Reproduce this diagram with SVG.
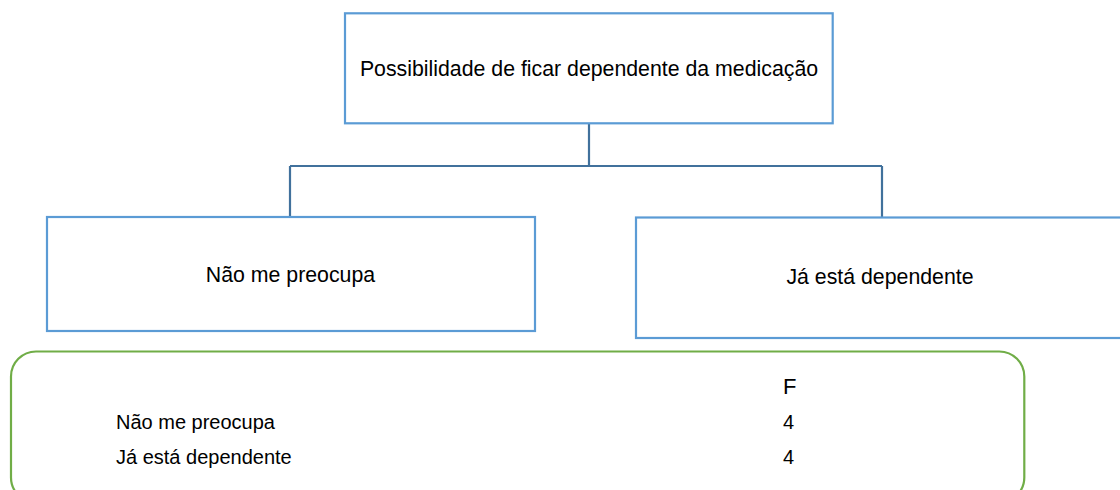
<svg xmlns="http://www.w3.org/2000/svg" width="1120" height="490" viewBox="0 0 1120 490">
<style>
.box{fill:#ffffff;stroke:#5B9BD5;stroke-width:2.2}
.conn{fill:none;stroke:#41719C;stroke-width:2.2}
.t{font-family:"Liberation Sans",Arial,sans-serif;font-size:21.3px;fill:#000000}
.tb{font-family:"Liberation Sans",Arial,sans-serif;font-size:20px;fill:#000000}
.legend{fill:#ffffff;stroke:#70AD47;stroke-width:2.2}
</style>
<rect width="1120" height="490" fill="#ffffff"/>
<g id="connectors">
<path class="conn" d="M589,123 V166 M290,166 H882 M290,166 V217 M882,166 V217"/>
</g>
<g id="node-root">
<rect class="box" x="345" y="13.3" width="487.7" height="110"/>
<text class="t" x="589" y="76" text-anchor="middle">Possibilidade de ficar dependente da medicação</text>
</g>
<g id="node-nao">
<rect class="box" x="47" y="217" width="488" height="114"/>
<text class="t" x="290.5" y="282" text-anchor="middle">Não me preocupa</text>
</g>
<g id="node-ja">
<rect class="box" x="636" y="217.5" width="490" height="120.5"/>
<text class="t" x="880" y="283.5" text-anchor="middle">Já está dependente</text>
</g>
<g id="legend">
<rect class="legend" x="11" y="351.5" width="1013.3" height="151" rx="25" ry="25"/>
<text class="tb" x="783" y="393.5" style="font-size:22px">F</text>
<text class="tb" x="116" y="428.5">Não me preocupa</text>
<text class="tb" x="783" y="428.5">4</text>
<text class="tb" x="116" y="463.5">Já está dependente</text>
<text class="tb" x="783" y="463.5">4</text>
</g>
</svg>
